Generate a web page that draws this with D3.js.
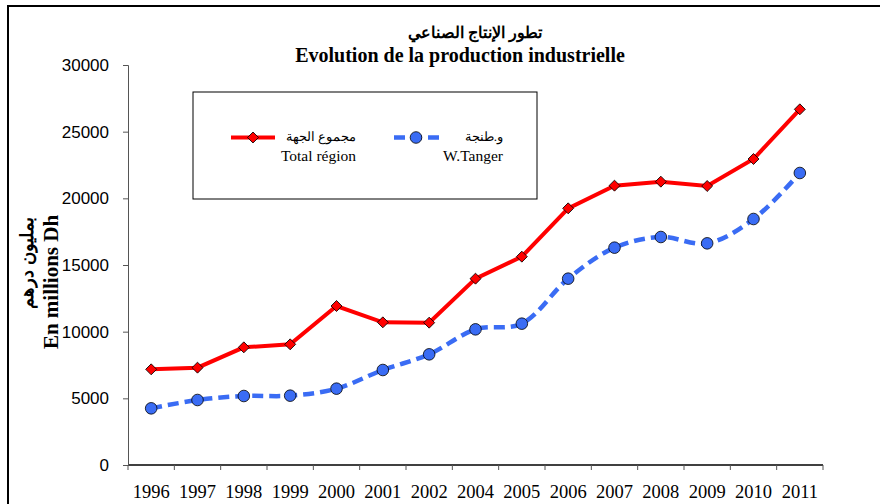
<!DOCTYPE html>
<html>
<head>
<meta charset="utf-8">
<script src="https://cdn.jsdelivr.net/npm/d3@7"></script>
<style>
  body { margin: 0; background: #fff; }
  svg { display: block; }
</style>
</head>
<body>
<div id="chart"></div>
<script>
const years = ["1996", "1997", "1998", "1999", "2000", "2001", "2002", "2004", "2005", "2006", "2007", "2008", "2009", "2010", "2011"];
const totalRegion = [7175, 7300, 8825, 9050, 11925, 10700, 10675, 13975, 15625, 19250, 20950, 21250, 20925, 22950, 26675];
const wTanger = [4250, 4875, 5175, 5200, 5725, 7125, 8300, 10175, 10600, 13975, 16300, 17100, 16625, 18450, 21900];
const yTicks = [0, 5000, 10000, 15000, 20000, 25000, 30000];

const W = 880, H = 504;
const margin = { top: 65, right: 57, bottom: 39, left: 128 };
const width = W - margin.left - margin.right;
const height = H - margin.top - margin.bottom;

const serif = "'Liberation Serif', 'Times New Roman', serif";

const svg = d3.select("#chart").append("svg")
  .attr("width", W)
  .attr("height", H);

// outer frame
svg.append("rect")
  .attr("x", 8).attr("y", 6)
  .attr("width", 900).attr("height", 600)
  .attr("fill", "none")
  .attr("stroke", "#000")
  .attr("stroke-width", 2);

const g = svg.append("g")
  .attr("transform", `translate(${margin.left}, ${margin.top})`);

const xScale = d3.scaleBand()
  .domain(years)
  .range([0, width]);

const yScale = d3.scaleLinear()
  .domain([0, 30000])
  .range([height, 0]);

// x axis, ticks sit between categories
const xAxis = g.append("g")
  .attr("transform", `translate(0, ${height})`);
xAxis.append("line")
  .attr("x1", 0).attr("x2", width)
  .attr("stroke", "#000").attr("stroke-width", 1.3);
xAxis.selectAll(".tk")
  .data(d3.range(years.length + 1))
  .join("line")
  .attr("x1", i => i * xScale.step())
  .attr("x2", i => i * xScale.step())
  .attr("y1", 0).attr("y2", 5)
  .attr("stroke", "#555");
xAxis.selectAll(".lbl")
  .data(years)
  .join("text")
  .attr("x", d => xScale(d) + xScale.bandwidth() / 2)
  .attr("y", 33)
  .attr("text-anchor", "middle")
  .style("font-family", serif)
  .style("font-size", "18.5px")
  .text(d => d);

const yAxis = d3.axisLeft(yScale)
  .tickValues(yTicks)
  .tickSize(5)
  .tickPadding(14)
  .tickFormat(d3.format("d"));

g.append("g")
  .call(yAxis)
  .call(s => s.select(".domain").attr("stroke", "#555"))
  .call(s => s.selectAll(".tick line").attr("stroke", "#555"))
  .call(s => s.selectAll("text")
    .style("font-family", "'Liberation Sans', Arial, sans-serif")
    .style("font-size", "17px")
    .attr("fill", "#000"));

const cx = d => xScale(d) + xScale.bandwidth() / 2;

const redLine = d3.line()
  .x((d, i) => cx(years[i]))
  .y(d => yScale(d));

const blueLine = d3.line()
  .x((d, i) => cx(years[i]))
  .y(d => yScale(d))
  .curve(d3.curveCatmullRom.alpha(0.5));

g.append("path")
  .datum(wTanger)
  .attr("d", blueLine)
  .attr("fill", "none")
  .attr("stroke", "#3a6cf4")
  .attr("stroke-width", 4.5)
  .attr("stroke-dasharray", "11,6");

g.append("path")
  .datum(totalRegion)
  .attr("d", redLine)
  .attr("fill", "none")
  .attr("stroke", "#ff0000")
  .attr("stroke-width", 4);

const diamond = d3.symbol().type(d3.symbolSquare).size(60);

g.selectAll(".red-pt")
  .data(totalRegion)
  .join("path")
  .attr("d", diamond)
  .attr("transform", (d, i) => `translate(${cx(years[i])}, ${yScale(d)}) rotate(45)`)
  .attr("fill", "#ff0000")
  .attr("stroke", "#000")
  .attr("stroke-width", 0.8);

g.selectAll(".blue-pt")
  .data(wTanger)
  .join("circle")
  .attr("cx", (d, i) => cx(years[i]))
  .attr("cy", d => yScale(d))
  .attr("r", 5.8)
  .attr("fill", "#3a6cf4")
  .attr("stroke", "#000")
  .attr("stroke-width", 0.8);

// titles
svg.append("text")
  .attr("x", 475).attr("y", 38)
  .attr("text-anchor", "middle")
  .style("font-family", serif)
  .style("font-weight", "bold")
  .style("font-size", "16px")
  .text("تطور الإنتاج الصناعي");

svg.append("text")
  .attr("x", 460).attr("y", 62)
  .attr("text-anchor", "middle")
  .style("font-family", serif)
  .style("font-weight", "bold")
  .style("font-size", "20px")
  .text("Evolution de la production industrielle");

// y axis label
svg.append("text")
  .attr("transform", "translate(33, 263) rotate(-90)")
  .attr("text-anchor", "middle")
  .style("font-family", serif)
  .style("font-weight", "bold")
  .style("font-size", "18px")
  .text("بمليون درهم");

svg.append("text")
  .attr("transform", "translate(58, 282) rotate(-90)")
  .attr("text-anchor", "middle")
  .style("font-family", serif)
  .style("font-weight", "bold")
  .style("font-size", "21px")
  .text("En millions Dh");

// legend
const legend = svg.append("g");
legend.append("rect")
  .attr("x", 193).attr("y", 92)
  .attr("width", 344).attr("height", 107)
  .attr("fill", "#fff")
  .attr("stroke", "#000")
  .attr("stroke-width", 1);

legend.append("line")
  .attr("x1", 231).attr("x2", 275)
  .attr("y1", 137.5).attr("y2", 137.5)
  .attr("stroke", "#ff0000").attr("stroke-width", 4);
legend.append("path")
  .attr("d", diamond)
  .attr("transform", "translate(253, 137.5) rotate(45)")
  .attr("fill", "#ff0000").attr("stroke", "#000").attr("stroke-width", 0.8);

legend.append("line")
  .attr("x1", 394).attr("x2", 440)
  .attr("y1", 137.5).attr("y2", 137.5)
  .attr("stroke", "#3a6cf4").attr("stroke-width", 4.5)
  .attr("stroke-dasharray", "11,6");
legend.append("circle")
  .attr("cx", 416).attr("cy", 137.5).attr("r", 5.8)
  .attr("fill", "#3a6cf4").attr("stroke", "#000").attr("stroke-width", 0.8);

const legendText = [
  { x: 356, y: 141, t: "مجموع الجهة", s: 13 },
  { x: 356, y: 161, t: "Total région", s: 15.5 },
  { x: 503, y: 141, t: "و.طنجة", s: 13 },
  { x: 503, y: 161, t: "W.Tanger", s: 15.5 }
];
legend.selectAll(".lt")
  .data(legendText)
  .join("text")
  .attr("x", d => d.x).attr("y", d => d.y)
  .attr("text-anchor", "end")
  .attr("direction", "ltr")
  .style("font-family", serif)
  .style("font-size", d => d.s + "px")
  .text(d => d.t);
</script>
</body>
</html>
